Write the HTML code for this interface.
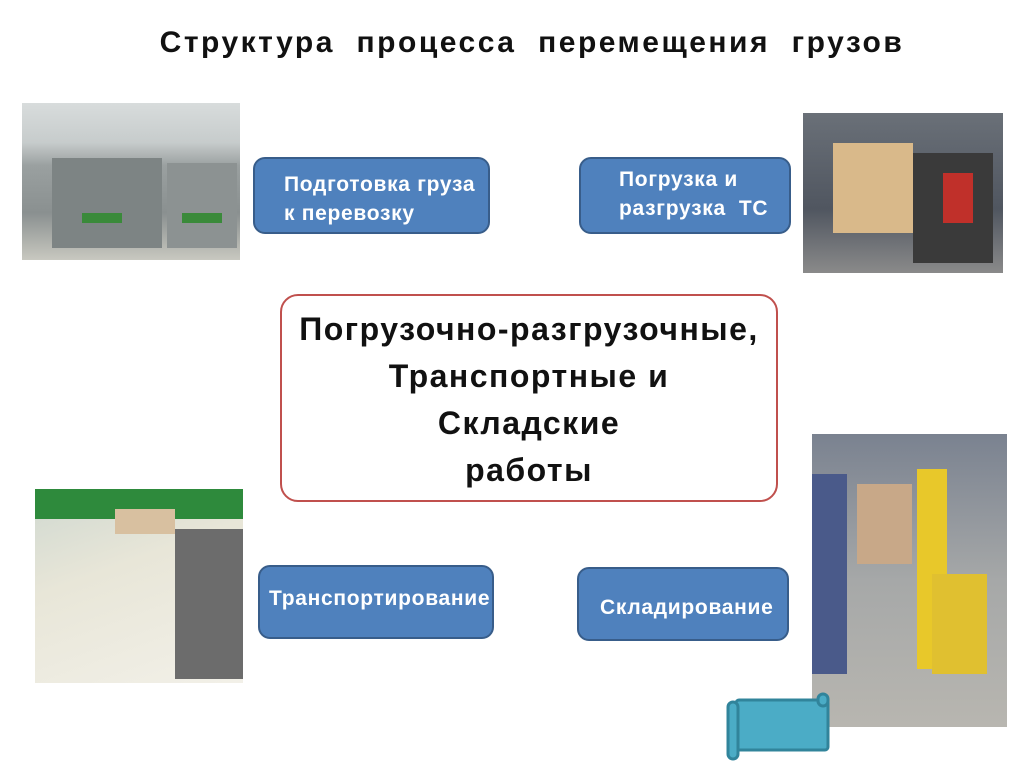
<!DOCTYPE html>
<html><head><meta charset="utf-8"><style>
body{margin:0;width:1024px;height:767px;background:#fff;position:relative;overflow:hidden;font-family:"Liberation Sans","DejaVu Sans",sans-serif}
.t{position:absolute;left:0;width:1024px;top:26px;text-align:center;font-weight:bold;font-size:30px;letter-spacing:2.5px;color:#111;padding-left:40px;box-sizing:border-box;white-space:nowrap}
.b{position:absolute;background:#4f81bd;border:2px solid #385d8a;border-radius:12px;color:#fff;font-weight:bold;font-size:21px;letter-spacing:0.7px;line-height:29px;box-sizing:border-box;white-space:nowrap}
.c{position:absolute;left:280px;top:294px;width:498px;height:208px;border:2px solid #c0504d;border-radius:18px;box-sizing:border-box;text-align:center;font-weight:bold;font-size:32px;letter-spacing:1.5px;line-height:47px;color:#111;padding-top:10px;white-space:nowrap}
.p{position:absolute;overflow:hidden}
</style></head><body>
<div class="t">Структура&nbsp; процесса&nbsp; перемещения&nbsp; грузов</div>

<div class="p" style="left:22px;top:103px;width:218px;height:157px;background:linear-gradient(180deg,#d8dcdc 0,#c7cccc 25%,#9aa0a0 40%,#8a9090 70%,#c8c8c0 100%)">
<div style="position:absolute;left:30px;top:55px;width:110px;height:90px;background:#7d8484"></div>
<div style="position:absolute;left:145px;top:60px;width:70px;height:85px;background:#8c9292"></div>
<div style="position:absolute;left:60px;top:110px;width:40px;height:10px;background:#3a8a3a"></div>
<div style="position:absolute;left:160px;top:110px;width:40px;height:10px;background:#3a8a3a"></div>
</div>
<div class="p" style="left:803px;top:113px;width:200px;height:160px;background:linear-gradient(180deg,#6a7078 0,#505660 60%,#8a8a8a 100%)">
<div style="position:absolute;left:30px;top:30px;width:80px;height:90px;background:#d9b98a"></div>
<div style="position:absolute;left:110px;top:40px;width:80px;height:110px;background:#3a3a3a"></div>
<div style="position:absolute;left:140px;top:60px;width:30px;height:50px;background:#c0302a"></div>
</div>
<div class="p" style="left:35px;top:489px;width:208px;height:194px;background:linear-gradient(160deg,#cfd8d0 0,#e8e6d8 40%,#f2f0e8 100%)">
<div style="position:absolute;left:0;top:0;width:208px;height:30px;background:#2e8a3c"></div>
<div style="position:absolute;left:80px;top:20px;width:60px;height:25px;background:#d8c0a0"></div>
<div style="position:absolute;left:140px;top:40px;width:68px;height:150px;background:#6c6c6c"></div>
</div>
<div class="p" style="left:812px;top:434px;width:195px;height:293px;background:linear-gradient(180deg,#7a8290 0,#a6a8a8 50%,#b8b6b0 100%)">
<div style="position:absolute;left:45px;top:50px;width:55px;height:80px;background:#c8a888"></div>
<div style="position:absolute;left:105px;top:35px;width:30px;height:200px;background:#e8c82a"></div>
<div style="position:absolute;left:120px;top:140px;width:55px;height:100px;background:#e0c030"></div>
<div style="position:absolute;left:0;top:40px;width:35px;height:200px;background:#4a5a8a"></div>
</div>

<div class="b" style="left:253px;top:157px;width:237px;height:77px;padding:11px 0 0 29px">Подготовка груза<br>к перевозку</div>
<div class="b" style="left:579px;top:157px;width:212px;height:77px;padding:6px 0 0 38px">Погрузка и<br>разгрузка&nbsp; ТС</div>
<div class="c">Погрузочно-разгрузочные,<br>Транспортные и<br>Складские<br>работы</div>
<div class="b" style="left:258px;top:565px;width:236px;height:74px;padding:17px 0 0 9px">Транспортирование</div>
<div class="b" style="left:577px;top:567px;width:212px;height:74px;padding:24px 0 0 21px">Складирование</div>

<svg style="position:absolute;left:722px;top:690px" width="110" height="72">
<rect x="14" y="10" width="92" height="50" rx="3" fill="#4bacc6" stroke="#31849b" stroke-width="3"/>
<rect x="6" y="12" width="10" height="57" rx="5" fill="#4bacc6" stroke="#31849b" stroke-width="3"/>
<rect x="96" y="4" width="10" height="12" rx="5" fill="#4bacc6" stroke="#31849b" stroke-width="3"/>
</svg>
</body></html>
